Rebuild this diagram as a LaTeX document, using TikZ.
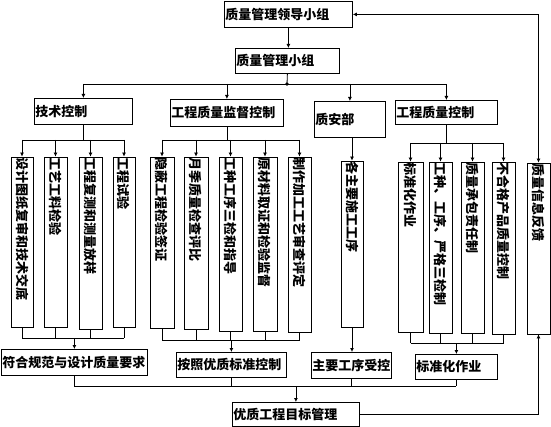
\documentclass[tikz,border=0pt]{standalone}
\usepackage{fontspec}
\newfontfamily\hei{Noto Sans CJK SC}
\usetikzlibrary{arrows.meta}

\tikzset{
  hbox/.style={draw, anchor=north west, inner xsep=1pt, inner ysep=0pt, align=left,
    font=\hei\bfseries\fontsize{13}{15}\selectfont},
  vbox/.style={draw, rotate=-90, inner xsep=1pt, inner ysep=0pt, align=left,
    font=\hei\bfseries\fontsize{13}{15}\selectfont},
}

\begin{document}
\begin{tikzpicture}[x=1pt,y=-1pt,line width=0.8pt,>={Latex[length=4pt,width=4pt]}]
\useasboundingbox (0,0) rectangle (551,427);
% boxes with horizontal text
\foreach \n/\xa/\ya/\w/\h/\txt in {lead/224/1/128/26/质量管理领导小组,qmg/235/48/104/25/质量管理小组,
  tech/34/98/98/26/技术控制,sup/170/99/113/27/工程质量监督控制,qs/314/101/71/36/质安部,
  qc/395/100/102/24/工程质量控制,r1/1/349/146/26/符合规范与设计质量要求,r2/176/352/110/25/按照优质标准控制,
  r3/311/352/80/26/主要工序受控,r4/415/354/82/25/标准化作业,goal/232/402/127/24/优质工程目标管理}{
  \pgfmathsetmacro\tw{\w-2}
  \node[hbox, text width=\tw pt, minimum height=\h pt] (\n) at (\xa,\ya) {\txt};
}
% boxes with vertical text
\foreach \n/\xa/\xb/\ya/\yb/\txt in {t1/11/33/157/327/设计图纸复审和技术交底,t2/44/67/157/327/工艺工料检验,
  t3/79/102/157/329/工程复测和测量放样,t4/113/135/157/327/工程试验,
  s1/150/174/157/328/隐蔽工程检验签证,s2/184/208/157/329/月季质量检查评比,s3/219/242/157/331/工种工序三检和指导,
  s4/253/277/157/331/原材料取证和检验监督,s5/288/311/157/332/制作加工工艺审查评定,
  a1/341/363/161/327/各主要施工工序,
  c1/398/423/162/332/标准化作业,c2/429/452/162/333/工种、工序、严格三检制,c3/461/484/162/333/质量承包责任制,
  c4/492/515/162/334/不合格产品质量控制,fb/527/550/163/334/质量信息反馈}{
  \pgfmathsetmacro\bl{\yb-\ya-2}
  \pgfmathsetmacro\bw{\xb-\xa}
  \node[vbox, text width=\bl pt, minimum height=\bw pt] (\n) at ({(\xa+\xb)/2},{(\ya+\yb)/2}) {\txt};
}
% top part
\draw[->] (lead.south) -- (lead.south |- qmg.north);
\coordinate (hub) at (287,84);
\draw (qmg.south) -- (hub);
\fill (hub) circle (1.8);
\draw (tech.north |- hub) -- (qc.north |- hub);
\foreach \b in {tech,sup,qs,qc} \draw[->] (\b.north |- hub) -- (\b.north);
% technical control
\coordinate (tbus) at (0,140); \coordinate (tbot) at (0,338);
\draw (tech.south) -- (tech.south |- tbus);
\draw (t1.west |- tbus) -- (t4.west |- tbus);
\foreach \b in {t1,t2,t3,t4}{
  \draw[->] (\b.west |- tbus) -- (\b.west);
  \draw (\b.east) -- (\b.east |- tbot);
}
\draw (t1.east |- tbot) -- (t4.east |- tbot);
\draw[->] (r1.north |- tbot) -- (r1.north);
% supervision
\coordinate (sbus) at (0,140); \coordinate (sbot) at (0,340);
\draw (sup.south) -- (sup.south |- sbus);
\draw (s1.west |- sbus) -- (s5.west |- sbus);
\foreach \b in {s1,s2,s3,s4,s5}{
  \draw[->] (\b.west |- sbus) -- (\b.west);
  \draw (\b.east) -- (\b.east |- sbot);
}
\draw (s1.east |- sbot) -- (s5.east |- sbot);
\draw[->] (r2.north |- sbot) -- (r2.north);
% safety dept
\draw[->] (a1.west |- qs.south) -- (a1.west);
\draw[->] (a1.east) -- (a1.east |- r3.north);
% quality control
\coordinate (cbus) at (0,143); \coordinate (cbot) at (0,343);
\draw (qc.south) -- (qc.south |- cbus);
\draw (c1.west |- cbus) -- (c4.west |- cbus);
\foreach \b in {c1,c2,c3,c4}{
  \draw[->] (\b.west |- cbus) -- (\b.west);
  \draw (\b.east) -- (\b.east |- cbot);
}
\draw (c1.east |- cbot) -- (c4.east |- cbot);
\draw[->] (r4.north |- cbot) -- (r4.north);
% results to goal
\coordinate (rbot) at (0,386);
\foreach \b in {r1,r2,r3,r4} \draw (\b.south) -- (\b.south |- rbot);
\draw (r1.south |- rbot) -- (r4.south |- rbot);
\draw[->] (goal.north |- rbot) -- (goal.north);
% feedback
\draw[->] (goal.east) -| (fb.east);
\draw[<->] (fb.west) |- (lead.east);
\end{tikzpicture}
\end{document}
